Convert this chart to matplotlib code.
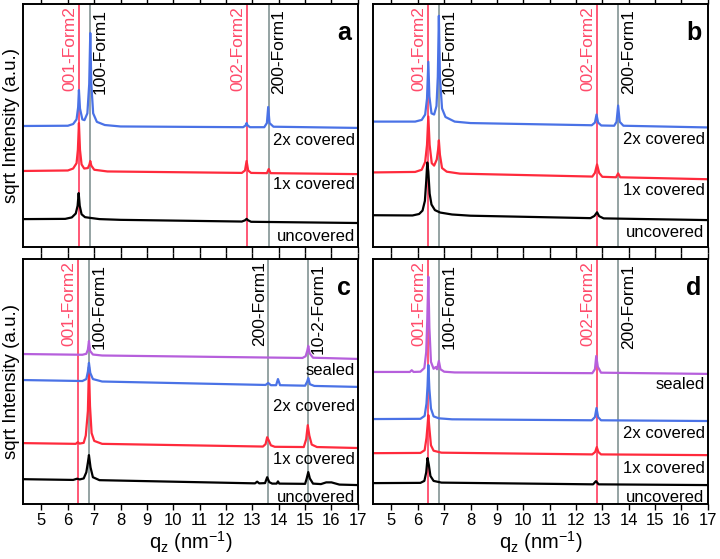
import matplotlib
matplotlib.use('Agg')
import matplotlib.pyplot as plt
import numpy as np

plt.rcParams['font.family'] = ['Liberation Sans', 'DejaVu Sans']

# --- traces, (q_z, offset sqrt intensity) ---
a_black = [(4.3, 11.5), (5.9, 11.6), (6.15, 12.2), (6.3, 13.8), (6.37, 17), (6.41, 22.2), (6.45, 17),
           (6.52, 13.5), (6.65, 12.3), (6.85, 12.0), (7.2, 11.5), (8.0, 11.2), (12.6, 10.5), (12.72, 11.0),
           (12.78, 11.6), (12.84, 11.0), (12.95, 10.4), (17, 9.9)]
a_red = [(4.3, 31.3), (6.0, 31.5), (6.2, 32.3), (6.33, 34.5), (6.38, 40), (6.42, 51), (6.46, 40), (6.52, 34),
         (6.62, 32.3), (6.76, 32.5), (6.82, 34), (6.85, 35.4), (6.89, 33.5), (7.0, 31.8), (7.5, 31.1),
         (12.6, 30.5), (12.72, 31.5), (12.78, 35.4), (12.84, 31.5), (12.95, 30.5), (13.55, 30.4),
         (13.62, 32.1), (13.69, 30.4), (17, 30.0)]
a_blue = [(4.3, 49.8), (6.0, 49.9), (6.2, 50.6), (6.33, 52.5), (6.39, 57.5), (6.42, 64.6), (6.46, 57),
          (6.55, 52.5), (6.63, 52.2), (6.74, 55), (6.81, 67), (6.85, 88), (6.89, 67), (6.96, 55), (7.1, 51.5),
          (7.4, 50.2), (8.0, 49.6), (12.65, 49.3), (12.74, 50.0), (12.78, 51.0), (12.82, 50.0), (12.91, 49.3),
          (13.45, 49.3), (13.55, 51.0), (13.6, 57.6), (13.65, 51.0), (13.8, 49.5), (17, 49.0)]

b_black = [(4.3, 13.1), (5.8, 13.0), (6.05, 13.6), (6.18, 15), (6.27, 19), (6.32, 27), (6.36, 34.8), (6.4, 31),
           (6.45, 22), (6.52, 17.5), (6.65, 15.2), (6.85, 14.2), (7.3, 13.4), (8.0, 12.9), (12.55, 11.9),
           (12.7, 12.8), (12.8, 14.3), (12.88, 12.7), (13.05, 11.8), (17, 11.1)]
b_red = [(4.3, 30.7), (5.9, 30.9), (6.15, 31.8), (6.28, 35), (6.35, 42), (6.4, 53.7), (6.45, 42), (6.53, 34.5),
         (6.62, 33.5), (6.72, 36), (6.77, 40), (6.8, 43.9), (6.84, 38), (6.92, 32.5), (7.1, 31), (7.6, 30.2),
         (12.62, 29.0), (12.72, 30.5), (12.8, 34.0), (12.88, 30.5), (13.0, 28.9), (13.52, 28.7), (13.6, 30.3),
         (13.68, 28.7), (17, 27.9)]
b_blue = [(4.3, 51.6), (5.9, 51.6), (6.15, 52.3), (6.28, 54.5), (6.35, 61), (6.4, 76.2), (6.44, 62), (6.52, 55),
          (6.62, 54.5), (6.71, 58), (6.76, 70), (6.8, 95.1), (6.84, 70), (6.92, 57), (7.05, 53.5), (7.4, 51.6),
          (8.0, 51.0), (12.6, 50.1), (12.72, 51.2), (12.78, 54.5), (12.84, 51.2), (12.96, 50.0), (13.45, 49.9),
          (13.54, 51.5), (13.6, 58.2), (13.66, 51.5), (13.8, 49.9), (17, 49.2)]

c_black = [(4.3, 10.2), (6.2, 9.9), (6.35, 10.4), (6.45, 10.1), (6.6, 10.5), (6.7, 13), (6.76, 17), (6.8, 20.0),
           (6.86, 15), (6.95, 11.0), (7.2, 9.8), (13.1, 8.5), (13.18, 9.2), (13.26, 8.5), (13.48, 8.6),
           (13.56, 11.0), (13.64, 9.0), (13.75, 8.4), (13.92, 8.4), (13.97, 9.3), (14.02, 8.4), (15.0, 8.3),
           (15.06, 10.5), (15.12, 13.1), (15.18, 10.5), (15.3, 8.4), (15.6, 8.2), (15.8, 8.9), (16.0, 8.9),
           (16.3, 8.0), (17, 7.8)]
c_red = [(4.3, 24.9), (6.3, 24.6), (6.38, 25.3), (6.44, 24.7), (6.6, 25.0), (6.68, 28), (6.72, 33), (6.76, 38),
         (6.8, 55.9), (6.84, 40), (6.9, 29), (7.0, 25.8), (7.3, 24.6), (13.4, 23.5), (13.5, 24.5), (13.56, 27.3),
         (13.62, 26.0), (13.7, 24.0), (13.85, 23.4), (14.95, 23.3), (15.04, 26.5), (15.1, 32.2), (15.16, 28),
         (15.25, 24.3), (15.45, 23.3), (17, 22.9)]
c_blue = [(4.3, 50.6), (6.55, 50.2), (6.7, 51.0), (6.76, 54), (6.8, 57.6), (6.85, 53.5), (6.95, 51.0), (7.3, 50.0),
          (13.5, 48.6), (13.6, 49.4), (13.7, 48.5), (13.9, 48.5), (13.97, 51.0), (14.05, 48.5), (15.0, 48.3),
          (15.08, 50.0), (15.12, 51.4), (15.18, 48.9), (15.35, 48.2), (17, 47.8)]
c_purple = [(4.3, 61.2), (6.55, 60.9), (6.7, 61.3), (6.76, 63), (6.8, 66.5), (6.84, 62.5), (6.95, 61.0),
            (7.3, 60.6), (14.9, 59.6), (15.02, 60.3), (15.08, 62.5), (15.12, 64.5), (15.17, 61.5), (15.3, 59.7),
            (17, 59.2)]

d_black = [(4.3, 8.6), (6.1, 8.7), (6.25, 9.5), (6.32, 13), (6.37, 18.8), (6.42, 16), (6.48, 11.5), (6.6, 9.5),
           (6.9, 8.8), (12.65, 8.1), (12.76, 9.4), (12.86, 8.1), (17, 7.8)]
d_red = [(4.3, 20.8), (6.1, 20.9), (6.26, 22), (6.33, 27), (6.37, 32), (6.4, 36.3), (6.44, 31), (6.5, 24),
         (6.6, 21.8), (6.9, 21.0), (12.62, 20.3), (12.73, 21.3), (12.79, 23.3), (12.85, 21.3), (12.95, 20.3),
         (17, 20.0)]
d_blue = [(4.3, 34.7), (6.1, 34.8), (6.26, 36), (6.33, 41), (6.37, 48), (6.4, 56.7), (6.44, 47), (6.5, 39),
          (6.6, 35.8), (6.8, 35.0), (7.3, 34.6), (12.6, 34.2), (12.72, 35.5), (12.78, 39.2), (12.84, 35.5),
          (12.95, 34.2), (17, 33.9)]
d_purple = [(4.3, 53.9), (5.7, 53.9), (5.77, 54.6), (5.84, 53.9), (6.1, 54.0), (6.25, 55.5), (6.32, 62),
            (6.36, 75), (6.4, 92.7), (6.44, 72), (6.5, 58), (6.6, 55.2), (6.68, 55.9), (6.73, 55.0), (6.8, 58.4),
            (6.86, 55), (7.0, 54.0), (7.4, 53.7), (12.62, 53.4), (12.72, 55.0), (12.77, 60.4), (12.83, 56),
            (12.95, 53.6), (17, 53.1)]

# sample labels: (text, y)
a_labels = [('2x covered', 44.0), ('1x covered', 25.9), ('uncovered', 4.5)]
b_labels = [('2x covered', 44.3), ('1x covered', 23.4), ('uncovered', 6.1)]
c_labels = [('sealed', 54.3), ('2x covered', 40.0), ('1x covered', 18.4), ('uncovered', 2.9)]
d_labels = [('sealed', 48.6), ('2x covered', 29.0), ('1x covered', 14.7), ('uncovered', 2.9)]

# reflection markers: (q, label, form, side)
a_refl = [(6.42, '001-Form2', 2, 'l'), (6.85, '100-Form1', 1, 'r'), (12.78, '002-Form2', 2, 'l'), (13.62, '200-Form1', 1, 'r')]
b_refl = [(6.40, '001-Form2', 2, 'l'), (6.80, '100-Form1', 1, 'r'), (12.80, '002-Form2', 2, 'l'), (13.60, '200-Form1', 1, 'r')]
c_refl = [(6.40, '001-Form2', 2, 'l'), (6.80, '100-Form1', 1, 'r'), (13.60, '200-Form1', 1, 'l'), (15.10, '10-2-Form1', 1, 'r')]
d_refl = [(6.40, '001-Form2', 2, 'l'), (6.80, '100-Form1', 1, 'r'), (12.80, '002-Form2', 2, 'l'), (13.60, '200-Form1', 1, 'r')]

xticks = list(range(5, 18))

BLACK = 'black'
RED = '#ff2a3c'
BLUE = '#4a72e6'
PURPLE = '#b65fdc'
LINE_RED = '#ff4a6a'
LINE_GRAY = '#8c9c9c'

fig = plt.figure(figsize=(7.2, 5.59), dpi=100)
boxes = {
    'a': [0.032, 0.558, 0.465, 0.435],
    'b': [0.518, 0.558, 0.465, 0.435],
    'c': [0.032, 0.098, 0.465, 0.439],
    'd': [0.518, 0.098, 0.465, 0.439],
}
panels = {
    'a': ([(a_black, BLACK), (a_red, RED), (a_blue, BLUE)], a_labels, a_refl),
    'b': ([(b_black, BLACK), (b_red, RED), (b_blue, BLUE)], b_labels, b_refl),
    'c': ([(c_black, BLACK), (c_red, RED), (c_blue, BLUE), (c_purple, PURPLE)], c_labels, c_refl),
    'd': ([(d_black, BLACK), (d_red, RED), (d_blue, BLUE), (d_purple, PURPLE)], d_labels, d_refl),
}

for key, (traces, labels, refl) in panels.items():
    ax = fig.add_axes(boxes[key])
    for q, txt, form, side in refl:
        col = LINE_RED if form == 2 else LINE_GRAY
        tcol = LINE_RED if form == 2 else 'black'
        ax.axvline(q, color=col, lw=1.3, zorder=1)
        if side == 'l':
            ax.text(q - 0.06, 99, txt, rotation=90, ha='right', va='top', color=tcol, fontsize=12.5)
        else:
            ax.text(q + 0.1, 98, txt, rotation=90, ha='left', va='top', color=tcol, fontsize=12.5)
    for pts, col in traces:
        arr = np.array(pts)
        ax.plot(arr[:, 0], arr[:, 1], color=col, lw=1.6, zorder=2)
    for txt, y in labels:
        ax.text(16.88, y, txt, ha='right', va='center', fontsize=12)
    ax.text(16.75, 88, key, ha='right', va='center', fontsize=18, fontweight='bold')
    ax.set_xlim(4.3, 17)
    ax.set_ylim(0, 100)
    ax.set_yticks([])
    ax.set_xticks(xticks)
    ax.tick_params(axis='x', direction='out', length=4, width=1, top=True, labelsize=12, pad=2)
    for s in ax.spines.values():
        s.set_linewidth(1.4)
    if key in ('a', 'b'):
        ax.tick_params(axis='x', labelbottom=False)
    else:
        ax.set_xlabel('q$_\\mathregular{z}$ (nm$^{\\mathregular{-1}}$)', fontsize=14.5, labelpad=1)
    if key in ('a', 'c'):
        ax.set_ylabel('sqrt Intensity (a.u.)', fontsize=13.5, labelpad=2)

fig.savefig('out.png', dpi=100)
